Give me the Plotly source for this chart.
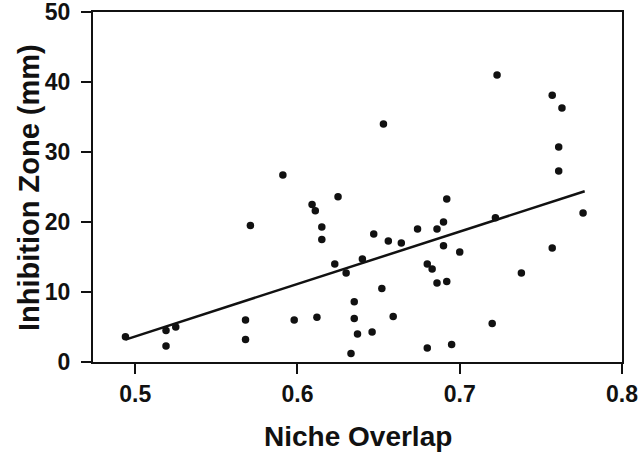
import plotly.graph_objects as go

niche_overlap = [
    0.494, 0.519, 0.525, 0.519, 0.571, 0.568, 0.568,
    0.591, 0.653, 0.609, 0.611, 0.625, 0.615, 0.615, 0.647, 0.656, 0.664,
    0.674, 0.686, 0.690, 0.692, 0.690, 0.623, 0.630, 0.640, 0.680, 0.683,
    0.686, 0.692, 0.652, 0.598, 0.612, 0.635, 0.635, 0.637, 0.646, 0.659,
    0.633, 0.680, 0.695,
    0.723, 0.757, 0.763, 0.761, 0.761, 0.776, 0.722, 0.757, 0.738, 0.700,
    0.720,
]
inhibition_zone = [
    3.6, 4.5, 5.0, 2.3, 19.5, 6.0, 3.2,
    26.7, 34.0, 22.5, 21.6, 23.6, 19.3, 17.5, 18.3, 17.3, 17.0,
    19.0, 19.0, 20.0, 23.3, 16.6, 14.0, 12.7, 14.7, 14.0, 13.3,
    11.3, 11.5, 10.5, 6.0, 6.4, 8.6, 6.2, 4.0, 4.3, 6.5,
    1.2, 2.0, 2.5,
    41.0, 38.1, 36.3, 30.7, 27.3, 21.3, 20.6, 16.3, 12.7, 15.7,
    5.5,
]
fit_x = [0.494, 0.777]
fit_y = [3.2, 24.4]

x_ticks = [0.5, 0.6, 0.7, 0.8]
x_tick_labels = ["0.5", "0.6", "0.7", "0.8"]
y_ticks = [0, 10, 20, 30, 40, 50]
y_tick_labels = ["0", "10", "20", "30", "40", "50"]
x_title = "Niche Overlap"
y_title = "Inhibition Zone (mm)"

ink = "#111111"
font_family = "Liberation Sans, Arial, sans-serif"

fig = go.Figure()
fig.add_trace(go.Scatter(
    x=fit_x, y=fit_y, mode="lines",
    line=dict(color=ink, width=2.5),
    showlegend=False, hoverinfo="skip",
))
fig.add_trace(go.Scatter(
    x=niche_overlap, y=inhibition_zone, mode="markers",
    marker=dict(color=ink, size=7.5),
    showlegend=False,
))

fig.update_layout(
    width=643, height=453,
    margin=dict(l=93, r=21, t=12, b=91, autoexpand=False),
    paper_bgcolor="white", plot_bgcolor="white",
    font=dict(family=font_family, color=ink),
)
fig.update_xaxes(
    range=[0.474, 0.8], automargin=False,
    tickvals=x_ticks, ticktext=x_tick_labels,
    ticks="outside", ticklen=10, tickwidth=2, tickcolor=ink,
    showline=True, linewidth=2, linecolor=ink, mirror=True,
    showgrid=False, zeroline=False, ticklabeloverflow="allow",
    tickfont=dict(size=23, weight="bold", family=font_family, color=ink),
)
fig.update_yaxes(
    range=[0, 50], automargin=False,
    tickvals=y_ticks, ticktext=y_tick_labels,
    ticks="outside", ticklen=10, tickwidth=2, tickcolor=ink,
    showline=True, linewidth=2, linecolor=ink, mirror=True,
    showgrid=False, zeroline=False, ticklabeloverflow="allow",
    ticklabelstandoff=6,
    tickfont=dict(size=23, weight="bold", family=font_family, color=ink),
)
fig.add_annotation(
    text=x_title, xref="paper", yref="paper", x=0.5, y=-0.214,
    xanchor="center", yanchor="middle", showarrow=False,
    font=dict(size=28, weight="bold", family=font_family, color=ink),
)
fig.add_annotation(
    text=y_title, xref="paper", yref="paper", x=-0.121, y=0.5,
    xanchor="center", yanchor="middle", textangle=-90, showarrow=False,
    font=dict(size=29, weight="bold", family=font_family, color=ink),
)

fig.write_html(
    "out.html",
    config={"displayModeBar": False},
    post_script="document.body.style.margin='0';document.body.style.overflow='hidden';",
)
